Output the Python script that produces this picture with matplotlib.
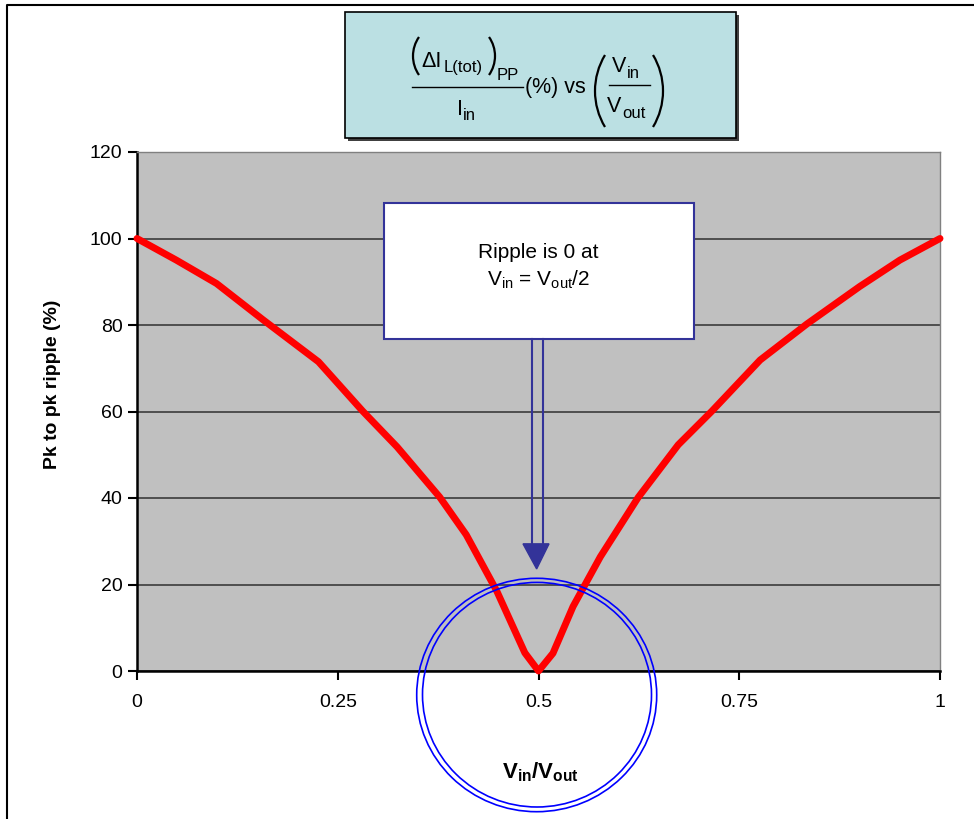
import numpy as np
import matplotlib.pyplot as plt
from matplotlib.patches import Rectangle, Ellipse, Polygon, Arc

plt.rcParams['font.family'] = ['Liberation Sans', 'DejaVu Sans']
plt.rcParams['mathtext.fontset'] = 'custom'
plt.rcParams['mathtext.rm'] = 'Liberation Sans'
plt.rcParams['mathtext.it'] = 'Liberation Sans'
plt.rcParams['mathtext.bf'] = 'Liberation Sans:bold'

# datos
vin_vout = [0.0, 0.049, 0.099, 0.157, 0.226, 0.281, 0.324, 0.377, 0.41, 0.448, 0.483, 0.5,
            0.518, 0.543, 0.577, 0.624, 0.674, 0.716, 0.776, 0.834, 0.9, 0.95, 1.0]
ripple = [100, 95, 89.6, 81.2, 71.5, 60.1, 51.8, 40.2, 31.5, 18.5, 4.2, 0,
          4.1, 14.9, 26.4, 40.1, 52.3, 60.1, 71.9, 80.2, 88.9, 95, 100]
x_ticks = [0, 0.25, 0.5, 0.75, 1]
x_tick_labels = ['0', '0.25', '0.5', '0.75', '1']
y_ticks = [0, 20, 40, 60, 80, 100, 120]

W, H = 974, 819
fig = plt.figure(figsize=(W / 100, H / 100), dpi=100)
ax = fig.add_axes([137 / W, 1 - 671 / H, (940 - 137) / W, (671 - 152) / H])
ax.set_facecolor('#C0C0C0')
ax.set_xlim(0, 1)
ax.set_ylim(0, 120)
ax.set_xticks(x_ticks)
ax.set_xticklabels(x_tick_labels)
ax.set_yticks(y_ticks)
ax.tick_params(labelsize=14, length=6.5, width=1.5, colors='black')
ax.tick_params(axis='x', pad=10)
ax.tick_params(axis='y', pad=4)
ax.yaxis.grid(True, color='#303030', linewidth=1.1)
ax.set_axisbelow(True)
for s in ['left', 'bottom']:
    ax.spines[s].set_linewidth(1.8)
for s in ['top', 'right']:
    ax.spines[s].set_color('#808080')
    ax.spines[s].set_linewidth(1.0)

ax.plot(vin_vout, ripple, color='#FF0000', linewidth=5, solid_joinstyle='round',
        solid_capstyle='round', clip_on=False, zorder=3)

ax.set_ylabel('Pk to pk ripple (%)', fontsize=14, fontweight='bold')
ax.yaxis.set_label_coords(-0.095, 0.553)
ax.set_xlabel(r'$\mathbf{V_{in}/V_{out}}$', fontsize=16)
ax.xaxis.set_label_coords(0.502, -0.172)

# cuadro de anotacion y flecha
ax.add_patch(Rectangle((0.3076, 76.8), 0.386, 31.4, facecolor='white',
                       edgecolor='#333399', linewidth=1.5, zorder=4))
ax.text(0.5, 95.5, 'Ripple is 0 at', ha='center', va='baseline', fontsize=15, zorder=5)
ax.text(0.5, 89.2, r'V$_{\mathrm{in}}$ = V$_{\mathrm{out}}$/2', ha='center', va='baseline',
        fontsize=15, zorder=5)
ax.plot([0.4915, 0.4915], [76.8, 29.4], color='#333399', linewidth=1.5, zorder=4)
ax.plot([0.5052, 0.5052], [76.8, 29.4], color='#333399', linewidth=1.5, zorder=4)
ax.add_patch(Polygon([[0.4807, 29.4], [0.5131, 29.4], [0.4977, 23.6]], closed=True,
                     facecolor='#333399', edgecolor='#333399', zorder=4))

# capa superior en pixeles
ov = fig.add_axes([0, 0, 1, 1], facecolor='none')
ov.set_xlim(0, W)
ov.set_ylim(H, 0)
ov.axis('off')
ov.plot([7, 7, W], [H, 5, 5], color='black', linewidth=1.5)

# titulo
ov.add_patch(Rectangle((348, 15), 391, 126, facecolor='#404040', edgecolor='none'))
ov.add_patch(Rectangle((345, 12), 391, 126, facecolor='#BBE0E3', edgecolor='black',
                       linewidth=1.2))


def paren(x_edge, y0, y1, depth, side):
    h = y1 - y0
    r = (h * h / 4 + depth * depth) / (2 * depth)
    a = np.degrees(np.arcsin(h / 2 / r))
    if side == 'l':
        ov.add_patch(Arc((x_edge + r, (y0 + y1) / 2), 2 * r, 2 * r, theta1=180 - a,
                         theta2=180 + a, color='black', linewidth=1.6))
    else:
        ov.add_patch(Arc((x_edge - r, (y0 + y1) / 2), 2 * r, 2 * r, theta1=-a,
                         theta2=a, color='black', linewidth=1.6))


big = 15.5
small = 12
paren(413, 37, 75, 6, 'l')
ov.text(421, 67, '\u0394I', fontsize=big, va='baseline', ha='left')
ov.text(444, 72, 'L(tot)', fontsize=small, va='baseline', ha='left')
paren(495, 37, 75, 6, 'r')
ov.text(497, 80, 'PP', fontsize=small, va='baseline', ha='left')
ov.plot([412, 523], [87, 87], color='black', linewidth=1.0)
ov.text(457, 115, 'I', fontsize=big, va='baseline', ha='left')
ov.text(463, 120, 'in', fontsize=small, va='baseline', ha='left')
ov.text(525, 93, '(%) vs', fontsize=15.5, va='baseline', ha='left')
paren(595, 55, 127, 10, 'l')
ov.text(612, 72, 'V', fontsize=big, va='baseline', ha='left')
ov.text(627, 78, 'in', fontsize=small, va='baseline', ha='left')
ov.plot([609, 650], [85, 85], color='black', linewidth=1.0)
ov.text(607, 112, 'V', fontsize=big, va='baseline', ha='left')
ov.text(622, 118, 'out', fontsize=small, va='baseline', ha='left')
paren(663, 55, 127, 10, 'r')

# circulo doble
ov.add_patch(Ellipse((536.7, 695), 240, 233.4, facecolor='none', edgecolor='#0000FF',
                     linewidth=1.2, zorder=6))
ov.add_patch(Ellipse((537, 694.7), 229, 224.6, facecolor='none', edgecolor='#0000FF',
                     linewidth=1.2, zorder=6))

fig.savefig('out.png', dpi=100)
